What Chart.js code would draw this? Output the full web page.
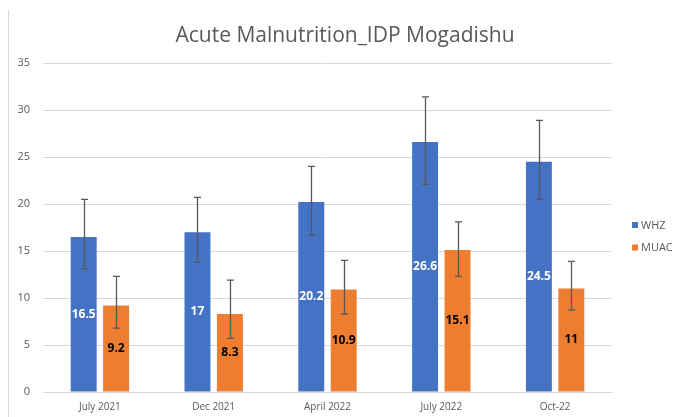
<!DOCTYPE html>
<html>
<head>
<meta charset="utf-8">
<script src="https://cdn.jsdelivr.net/npm/chart.js@4.4.1/dist/chart.umd.min.js"></script>
<style>
  html, body { margin: 0; padding: 0; background: #ffffff; }
  #wrap { position: relative; width: 674px; height: 417px; }
</style>
</head>
<body>
<div id="wrap"><canvas id="c" width="674" height="417"></canvas></div>
<script>
const categories = ["July 2021", "Dec 2021", "April 2022", "July 2022", "Oct-22"];
const whz = [16.5, 17, 20.2, 26.6, 24.5];
const muac = [9.2, 8.3, 10.9, 15.1, 11];
const whzLower = [13.1, 13.8, 16.7, 22.1, 20.5];
const whzUpper = [20.5, 20.7, 24.0, 31.4, 28.9];
const muacLower = [6.8, 5.7, 8.3, 12.3, 8.7];
const muacUpper = [12.3, 11.9, 14.0, 18.1, 13.9];
const yTicks = [0, 5, 10, 15, 20, 25, 30, 35];
const seriesNames = ["WHZ", "MUAC"];
const seriesColors = ["#4472C4", "#ED7D31"];
const chartTitle = "Acute Malnutrition_IDP Mogadishu";

const errors = [
  { lower: whzLower, upper: whzUpper },
  { lower: muacLower, upper: muacUpper }
];
const labelColors = ["#ffffff", "#000000"];

const errorBarsPlugin = {
  id: "errorBars",
  afterDatasetsDraw(chart) {
    const ctx = chart.ctx;
    const y = chart.scales.y;
    ctx.save();
    ctx.strokeStyle = "#595959";
    ctx.lineWidth = 1.3;
    chart.data.datasets.forEach((ds, di) => {
      const meta = chart.getDatasetMeta(di);
      meta.data.forEach((bar, i) => {
        const x = Math.round(bar.x) + 0.5;
        const yt = y.getPixelForValue(errors[di].upper[i]);
        const yb = y.getPixelForValue(errors[di].lower[i]);
        ctx.beginPath();
        ctx.moveTo(x, yt); ctx.lineTo(x, yb);
        ctx.moveTo(x - 3.5, yt); ctx.lineTo(x + 3.5, yt);
        ctx.moveTo(x - 3.5, yb); ctx.lineTo(x + 3.5, yb);
        ctx.stroke();
      });
    });
    ctx.font = "bold 12px 'Open Sans'";
    ctx.textAlign = "center";
    ctx.textBaseline = "middle";
    chart.data.datasets.forEach((ds, di) => {
      const meta = chart.getDatasetMeta(di);
      ctx.fillStyle = labelColors[di];
      meta.data.forEach((bar, i) => {
        const v = ds.data[i];
        const cy = (bar.y + bar.base) / 2;
        ctx.fillText(String(v), bar.x, cy);
      });
    });
    // legend
    const ca = chart.chartArea;
    const midY = (ca.top + ca.bottom) / 2;
    ctx.font = "11px 'Open Sans'";
    ctx.textAlign = "left";
    ctx.textBaseline = "middle";
    chart.data.datasets.forEach((ds, di) => {
      const cy = midY - 2.5 + di * 22.5;
      ctx.fillStyle = ds.backgroundColor;
      ctx.fillRect(632, cy - 3, 6, 6);
      ctx.fillStyle = "#595959";
      ctx.fillText(ds.label, 641, cy + 0.5);
    });
    // title
    ctx.font = "21px 'Open Sans'";
    ctx.textAlign = "center";
    ctx.textBaseline = "alphabetic";
    ctx.fillStyle = "#595959";
    ctx.fillText(chartTitle, 345, 42);
    ctx.restore();
  },
  beforeDraw(chart) {
    const ctx = chart.ctx;
    ctx.save();
    ctx.fillStyle = "#ffffff";
    ctx.fillRect(0, 0, chart.width, chart.height);
    ctx.strokeStyle = "#d9d9d9";
    ctx.lineWidth = 1;
    ctx.beginPath();
    ctx.moveTo(8.5, 10); ctx.lineTo(8.5, chart.height);
    ctx.stroke();
    ctx.restore();
  }
};

new Chart(document.getElementById("c"), {
  type: "bar",
  data: {
    labels: categories,
    datasets: [
      { label: seriesNames[0], data: whz, backgroundColor: seriesColors[0], borderWidth: 0 },
      { label: seriesNames[1], data: muac, backgroundColor: seriesColors[1], borderWidth: 0 }
    ]
  },
  options: {
    responsive: false,
    animation: false,
    devicePixelRatio: 1,
    layout: { padding: { left: 8, right: 62, top: 63, bottom: 0 } },
    datasets: { bar: { barPercentage: 0.8, categoryPercentage: 0.57 } },
    plugins: {
      title: { display: false },
      legend: { display: false },
      tooltip: { enabled: false }
    },
    scales: {
      x: {
        grid: { display: false, drawTicks: false },
        border: { display: true, color: "#d9d9d9" },
        ticks: { color: "#595959", font: { family: "'Open Sans'", size: 10 }, padding: 9, maxRotation: 0 },
        afterFit(s) { s.height = 25; }
      },
      y: {
        min: 0, max: 35,
        afterBuildTicks(s) { s.ticks = yTicks.map(v => ({ value: v })); },
        grid: { color: "#d9d9d9", drawTicks: false },
        border: { display: false },
        ticks: { color: "#595959", font: { family: "'Open Sans'", size: 11 }, padding: 13 },
        afterFit(s) { s.width = 35; }
      }
    }
  },
  plugins: [errorBarsPlugin]
});
</script>
</body>
</html>
